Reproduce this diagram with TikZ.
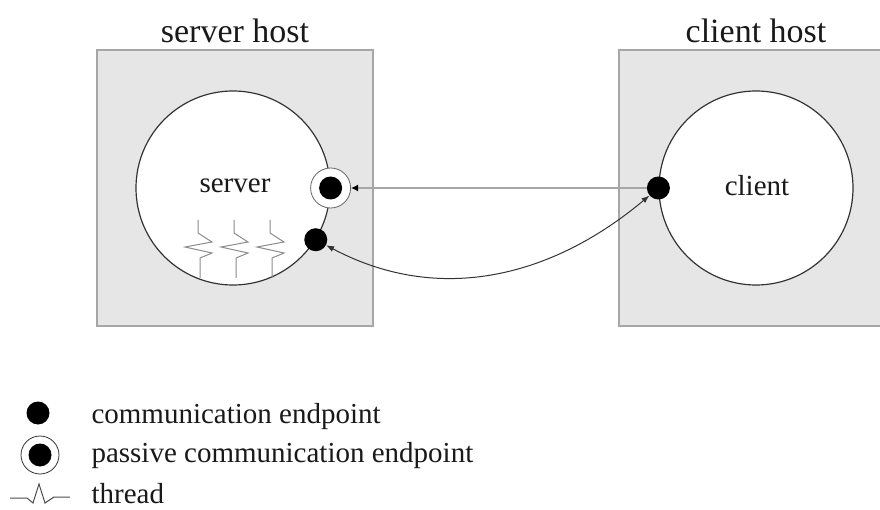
\documentclass[tikz,border=0pt]{standalone}
\usepackage{fontspec}
\setmainfont{Liberation Serif}
\usetikzlibrary{arrows.meta}

\definecolor{hostgray}{HTML}{E6E6E6}
\definecolor{edgegray}{HTML}{A6A6A6}
\definecolor{threadgray}{HTML}{8C8C8C}

\begin{document}
\begin{tikzpicture}[
			x=1pt, y=-1pt,
			every node/.style={font=\fontsize{29}{34}\selectfont, text=black!90},
			host/.style={rectangle, draw=edgegray, line width=1.8pt, fill=hostgray, inner sep=0pt},
			proc/.style={circle, draw=black!80, line width=1.2pt, fill=white, minimum size=194pt, inner sep=0pt},
			endpt/.style={circle, fill=black, minimum size=23pt, inner sep=0pt},
			ring/.style={circle, draw=black!60, line width=0.8pt, fill=white, minimum size=40pt, inner sep=0pt},
			thread/.style={draw=threadgray, line width=1pt, line join=miter}
			]
			\useasboundingbox (0,0) rectangle (880,510);

			% hosts
			\node[host, minimum width=276pt, minimum height=276pt] (shost) at (235,188) {};
			\node[host, minimum width=266pt, minimum height=276pt] (chost) at (752,188) {};
			\node[font=\fontsize{34}{40}\selectfont, anchor=base] (stitle) at (235,43) {server host};
			\node[font=\fontsize{34}{40}\selectfont, anchor=base] (ctitle) at (756,43) {client host};

			% processes
			\node[proc] (srv) at (233,188) {};
			\node[proc] (cli) at (756,188) {};
			\node (srvtxt) at (235,186) {server};
			\node (clitxt) at (757,186) {client};

			% threads
			\foreach \x in {198,234,270}
				\draw[thread] (\x,220) -- ++(0,13) -- ++(14,9) -- ++(-27,5) -- ++(27,6) -- ++(-12,5) -- ++(0,20);

			% endpoints
			\node[ring] (pep) at (srv.east) {};
			\node[endpt] (pepdot) at (pep.center) {};
			\node[endpt] (ep) at (srv.-32) {};
			\node[endpt] (cep) at (cli.west) {};

			\draw[draw=black!35, line width=2.6pt, -{Latex[length=7pt, width=7pt, black]}] (cep) -- (pep);
			\draw[black!80, line width=1pt, {Latex[length=8pt, width=6pt]}-{Latex[length=8pt, width=6pt]}]
				(ep) to[out=-28, in=-140] (cep);

			% legend
			\node[endpt] (lgdot) at (38,413) {};
			\node[ring, draw=black!80, minimum size=38pt] (lgring) at (40,455) {};
			\node[endpt] (lgringdot) at (lgring.center) {};
			\draw[thread, draw=black!70] (10,498) -- (27,498) -- (33,503) -- (39,484) -- (45,503) -- (54,497) -- (70,497);
			\node[anchor=base west] (lg1) at (88,423) {communication endpoint};
			\node[anchor=base west] (lg2) at (88,462) {passive communication endpoint};
			\node[anchor=base west] (lg3) at (88,503) {thread};
		\end{tikzpicture}
\end{document}
